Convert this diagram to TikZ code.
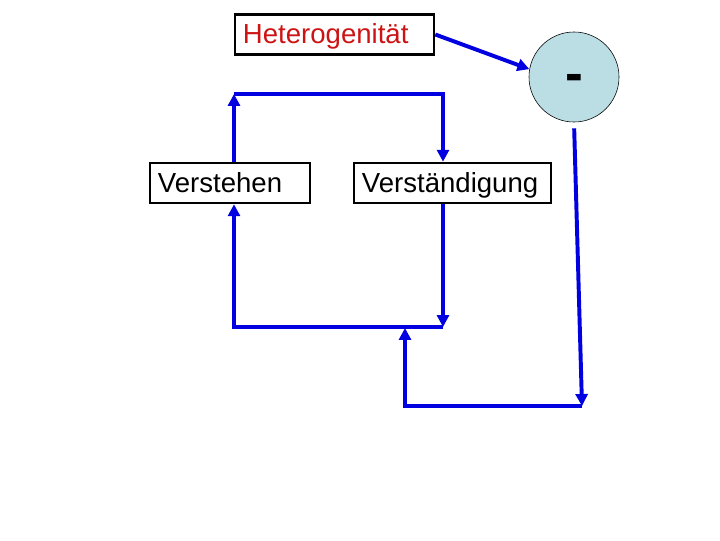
\documentclass[tikz,border=0pt]{standalone}
\usepackage{fontspec}
\setmainfont{Liberation Sans}
\usepackage{xcolor}
\usepackage{tikz}
\usetikzlibrary{arrows.meta,calc,positioning}
\definecolor{loopblue}{RGB}{0,0,224}
\definecolor{textred}{RGB}{204,20,20}
\definecolor{sumfill}{RGB}{186,222,228}
\tikzset{
  box/.style={draw, line width=1.8pt, minimum height=1cm, inner xsep=0.2cm, text height=15.5pt, text depth=2.5pt, align=left, font=\fontsize{19.6}{22}\selectfont},
  sumnode/.style={draw, circle, line width=0.4pt, fill=sumfill, minimum size=2.25cm, inner sep=0pt},
  signlabel/.style={font=\fontsize{38}{40}\selectfont\bfseries, yshift=-0.16cm, inner sep=0pt},
  flow/.style={-{Triangle[length=8.5pt,width=8.5pt]}, line width=2.8pt, loopblue}
}
\begin{document}
\begin{tikzpicture}[x=0.025cm,y=-0.025cm]
  \useasboundingbox (0,0) rectangle (720,540);

  \node[box, text width=4.575cm, text=textred] (het) at (334.5,34.5) {Heterogenität};
  \node[box, text width=3.6cm] (verst) at (230,183) {Verstehen};
  \node[box, text width=4.525cm] (verstd) at (452.5,183) {Verständigung};
  \node[sumnode, label={[signlabel]center:-}] (sum) at (574,77) {};

  \coordinate (tl) at (234,94);
  \coordinate (tr) at (443,94);
  \coordinate (br) at (443,327);
  \coordinate (bl) at (234,327);
  \coordinate (ol) at (405,406);
  \coordinate (or) at (582,406);
  \coordinate (oi) at (405,328);

  \draw[flow] (het.east) -- (sum.170);

  \draw[flow] (tl |- verst.north) -- (tl);
  \draw[flow] (tl) -- (tr) -- (tr |- verstd.north);

  \draw[flow] (br |- verstd.south) -- (br);
  \draw[flow] (br) -- (bl) -- (bl |- verst.south);

  \draw[flow, shorten <=0.15cm] (sum.south) -- (or);
  \draw[flow] (or) -- (ol) -- (oi);
\end{tikzpicture}
\end{document}
